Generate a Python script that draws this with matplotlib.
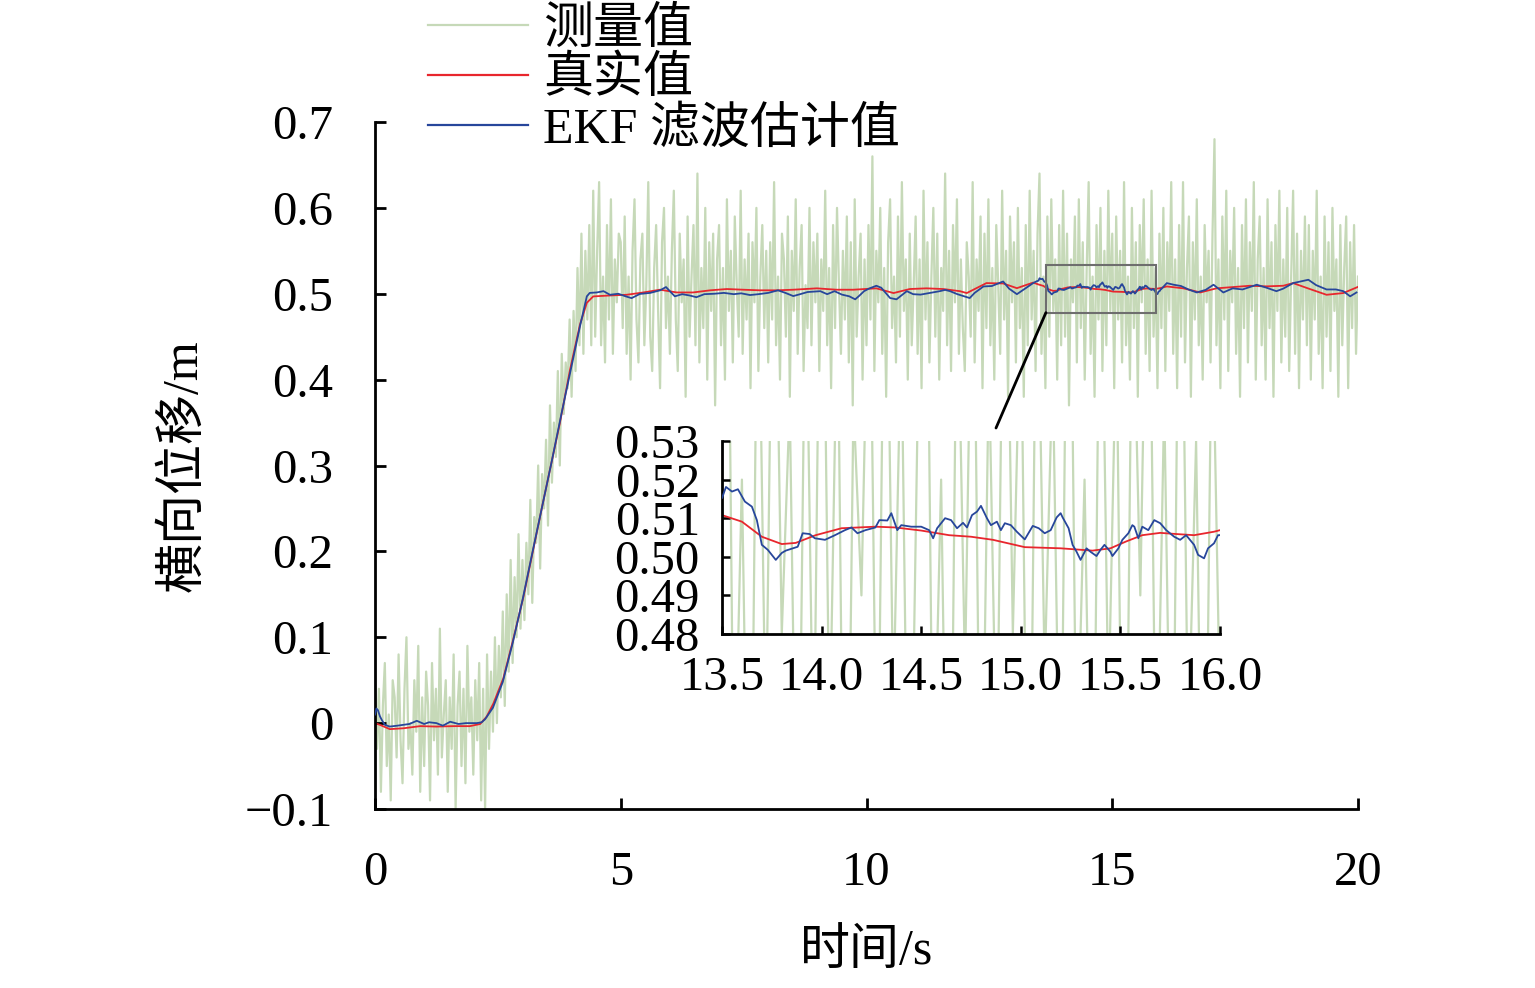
import numpy as np
import matplotlib
matplotlib.use("Agg")
import matplotlib.pyplot as plt
from matplotlib.lines import Line2D
from matplotlib.patches import Rectangle, ConnectionPatch

plt.rcParams['font.family'] = ['Liberation Serif', 'Noto Sans CJK SC', 'DejaVu Sans']
plt.rcParams['axes.unicode_minus'] = True

# ---------------- data ----------------
labels = ['测量值', '真实值', 'EKF 滤波估计值']
x_label = '时间/s'
y_label = '横向位移/m'

x_ticks = [0, 5, 10, 15, 20]
x_ticklabels = ['0', '5', '10', '15', '20']
y_ticks = [-0.1, 0.0, 0.1, 0.2, 0.3, 0.4, 0.5, 0.6, 0.7]
y_ticklabels = ['\u22120.1', '0', '0.1', '0.2', '0.3', '0.4', '0.5', '0.6', '0.7']

inset_x_ticks = [13.5, 14.0, 14.5, 15.0, 15.5, 16.0]
inset_x_ticklabels = ['13.5', '14.0', '14.5', '15.0', '15.5', '16.0']
inset_y_ticks = [0.48, 0.49, 0.50, 0.51, 0.52, 0.53]
inset_y_ticklabels = ['0.48', '0.49', '0.50', '0.51', '0.52', '0.53']

# zoom window marked on main plot
zoom_box = (13.65, 0.478, 15.90, 0.534)

# measurement, sampled every 0.04 s from 0 to 20 s
meas_dt = 0.04
meas_v = [
    0.06, -0.03, 0.04, -0.08, 0.02, 0.07, -0.05, 0.01, -0.09, 0.05, 0.03, -0.04, 0.08, -0.02, -0.07, 0.04, 0.10, -0.03, 0.00, -0.06, 0.05, -0.01, 0.09, -0.08, 0.03,
    -0.05, 0.06, 0.02, -0.09, 0.07, -0.02, 0.04, -0.06, 0.11, -0.04, 0.01, 0.05, -0.08, 0.03, -0.03, 0.08, -0.10, 0.02, 0.06, -0.05, 0.04, -0.07, 0.09, -0.01, 0.03,
    -0.06, 0.05, -0.02, 0.07, -0.09, 0.04, -0.10, 0.08, -0.03, 0.06, -0.01, 0.10, 0.00, 0.09, 0.03, 0.13, 0.02, 0.15, 0.06, 0.19, 0.07, 0.17, 0.10, 0.22, 0.11,
    0.19, 0.12, 0.21, 0.15, 0.26, 0.14, 0.24, 0.21, 0.30, 0.18, 0.29, 0.25, 0.33, 0.23, 0.37, 0.28, 0.35, 0.31, 0.41, 0.30, 0.43, 0.36, 0.42, 0.39, 0.47,
    0.38, 0.48, 0.41, 0.53, 0.44, 0.57, 0.43, 0.55, 0.47, 0.58, 0.44, 0.62, 0.45, 0.55, 0.63, 0.44, 0.52, 0.42, 0.58, 0.47, 0.61, 0.43, 0.54, 0.49, 0.57,
    0.56, 0.46, 0.59, 0.43, 0.52, 0.40, 0.55, 0.61, 0.47, 0.42, 0.54, 0.57, 0.44, 0.51, 0.63, 0.45, 0.41, 0.53, 0.58, 0.48, 0.39, 0.56, 0.60, 0.46, 0.52,
    0.43, 0.55, 0.62, 0.47, 0.41, 0.57, 0.49, 0.54, 0.38, 0.59, 0.45, 0.52, 0.58, 0.44, 0.64, 0.42, 0.53, 0.46, 0.60, 0.40, 0.56, 0.48, 0.57, 0.37, 0.54,
    0.58, 0.44, 0.53, 0.40, 0.61, 0.48, 0.55, 0.42, 0.59, 0.51, 0.45, 0.62, 0.43, 0.54, 0.47, 0.57, 0.39, 0.56, 0.49, 0.60, 0.41, 0.52, 0.58, 0.46, 0.55,
    0.42, 0.56, 0.47, 0.63, 0.44, 0.52, 0.40, 0.57, 0.54, 0.45, 0.59, 0.38, 0.55, 0.48, 0.61, 0.43, 0.53, 0.58, 0.41, 0.51, 0.46, 0.60, 0.44, 0.56, 0.49,
    0.57, 0.41, 0.54, 0.48, 0.62, 0.44, 0.53, 0.39, 0.58, 0.46, 0.60, 0.51, 0.43, 0.55, 0.47, 0.59, 0.42, 0.56, 0.37, 0.61, 0.45, 0.52, 0.57, 0.40, 0.54,
    0.44, 0.58, 0.47, 0.66, 0.41, 0.55, 0.49, 0.60, 0.43, 0.53, 0.38, 0.56, 0.61, 0.46, 0.52, 0.42, 0.59, 0.45, 0.63, 0.48, 0.54, 0.40, 0.57, 0.44, 0.51,
    0.59, 0.43, 0.54, 0.39, 0.62, 0.47, 0.56, 0.42, 0.52, 0.60, 0.45, 0.57, 0.40, 0.53, 0.48, 0.64, 0.44, 0.55, 0.41, 0.58, 0.49, 0.61, 0.43, 0.54, 0.46,
    0.41, 0.56, 0.52, 0.45, 0.63, 0.42, 0.54, 0.48, 0.59, 0.39, 0.57, 0.46, 0.61, 0.44, 0.53, 0.40, 0.58, 0.51, 0.43, 0.62, 0.47, 0.55, 0.38, 0.59, 0.49,
    0.56, 0.42, 0.60, 0.46, 0.53, 0.38, 0.58, 0.44, 0.62, 0.47, 0.55, 0.41, 0.57, 0.64, 0.43, 0.52, 0.39, 0.59, 0.45, 0.61, 0.48, 0.54, 0.40, 0.58, 0.44,
    0.62, 0.45, 0.57, 0.37, 0.54, 0.49, 0.59, 0.42, 0.61, 0.46, 0.56, 0.40, 0.53, 0.63, 0.43, 0.52, 0.38, 0.58, 0.47, 0.60, 0.41, 0.55, 0.44, 0.62, 0.48,
    0.57, 0.39, 0.59, 0.47, 0.55, 0.42, 0.63, 0.44, 0.52, 0.40, 0.60, 0.46, 0.56, 0.38, 0.58, 0.49, 0.61, 0.43, 0.54, 0.41, 0.62, 0.45, 0.53, 0.39, 0.57,
    0.46, 0.60, 0.41, 0.56, 0.48, 0.63, 0.43, 0.54, 0.39, 0.58, 0.45, 0.63, 0.42, 0.53, 0.59, 0.38, 0.56, 0.47, 0.61, 0.44, 0.52, 0.40, 0.58, 0.49, 0.55,
    0.42, 0.57, 0.68, 0.44, 0.54, 0.39, 0.59, 0.47, 0.62, 0.41, 0.55, 0.49, 0.60, 0.43, 0.53, 0.38, 0.58, 0.46, 0.61, 0.42, 0.56, 0.48, 0.63, 0.40, 0.54,
    0.59, 0.44, 0.53, 0.40, 0.61, 0.46, 0.56, 0.38, 0.58, 0.48, 0.62, 0.42, 0.54, 0.45, 0.60, 0.41, 0.52, 0.62, 0.43, 0.57, 0.39, 0.55, 0.47, 0.59, 0.44,
    0.58, 0.40, 0.55, 0.47, 0.62, 0.43, 0.52, 0.39, 0.59, 0.45, 0.56, 0.41, 0.60, 0.48, 0.54, 0.38, 0.58, 0.44, 0.53, 0.59, 0.39, 0.56, 0.46, 0.58, 0.43,
    0.52,
]

# true value
true_t = [0.00, 0.10, 0.30, 0.58, 0.92, 1.25, 1.60, 1.93, 2.14, 2.27, 2.41, 2.61, 2.81, 3.02, 3.15, 3.40, 3.76, 3.97, 4.17, 4.31,
          4.44, 4.78, 5.12, 5.46, 5.80, 6.14, 6.47, 6.82, 7.16, 7.49, 7.83, 8.17, 8.51, 8.99, 9.39, 9.73, 10.20, 10.55, 10.88, 11.22,
          11.56, 11.90, 12.04, 12.44, 12.78, 13.06, 13.39, 13.50, 13.60, 13.70, 13.80, 13.87, 13.97, 14.10, 14.27, 14.37, 14.50, 14.64, 14.75, 14.86,
          15.02, 15.20, 15.36, 15.45, 15.53, 15.61, 15.70, 15.78, 15.87, 15.97, 16.00, 16.11, 16.45, 16.79, 17.12, 17.46, 17.80, 18.14, 18.48, 18.68,
          19.02, 19.36, 19.70, 20.00]
true_v = [0.000, -0.002, -0.007, -0.006, -0.0035, -0.004, -0.0035, -0.0035, -0.001, 0.0074, 0.023, 0.052, 0.097, 0.147, 0.183, 0.252, 0.349, 0.412, 0.464, 0.4895,
          0.4969, 0.498, 0.4988, 0.5015, 0.5047, 0.5015, 0.5015, 0.504, 0.5055, 0.5047, 0.504, 0.504, 0.5047, 0.5063, 0.5047, 0.5047, 0.5063, 0.5008, 0.5055, 0.5063,
          0.5055, 0.503, 0.5008, 0.5124, 0.512, 0.5065, 0.513, 0.5108, 0.5091, 0.5052, 0.5033, 0.5036, 0.5056, 0.5074, 0.5078, 0.5076, 0.5068, 0.5056, 0.5052, 0.5044,
          0.5025, 0.5022, 0.5016, 0.5022, 0.504, 0.5056, 0.5062, 0.5059, 0.5056, 0.5065, 0.5069, 0.5085, 0.5063, 0.5015, 0.5063, 0.5078, 0.5093, 0.5086, 0.5093, 0.5124,
          0.5055, 0.4988, 0.5008, 0.508]

# EKF estimate
ekf_t = [0.00, 0.03, 0.06, 0.10, 0.14, 0.20, 0.30, 0.45, 0.58, 0.70, 0.85, 1.00, 1.10, 1.25, 1.38, 1.53, 1.70, 1.85, 2.07, 2.17,
         2.24, 2.40, 2.60, 2.80, 3.00, 3.20, 3.40, 3.60, 3.80, 4.00, 4.17, 4.31, 4.37, 4.51, 4.65, 4.78, 4.95, 5.10, 5.22, 5.39,
         5.60, 5.80, 5.92, 6.10, 6.25, 6.40, 6.54, 6.70, 6.90, 7.10, 7.30, 7.45, 7.63, 7.80, 8.00, 8.20, 8.35, 8.51, 8.65, 8.80,
         9.06, 9.20, 9.35, 9.50, 9.65, 9.77, 9.85, 9.95, 10.05, 10.20, 10.30, 10.48, 10.61, 10.82, 10.95, 11.10, 11.30, 11.49, 11.60, 11.70,
         11.85, 12.10, 12.20, 12.38, 12.55, 12.78, 12.90, 13.06, 13.20, 13.39, 13.46,
         13.50, 13.52, 13.55, 13.58, 13.615, 13.65, 13.675, 13.70, 13.73, 13.77, 13.80, 13.82, 13.88, 13.905, 13.94, 13.966, 14.017, 14.067, 14.117, 14.15,
         14.18, 14.22, 14.27, 14.29, 14.33, 14.35, 14.38, 14.40, 14.45, 14.50, 14.54, 14.56, 14.58, 14.62, 14.65, 14.68, 14.71, 14.73, 14.755, 14.78,
         14.80, 14.83, 14.85, 14.88, 14.90, 14.92, 14.95, 14.98, 15.02, 15.06, 15.09, 15.12, 15.15, 15.18, 15.20, 15.21, 15.24, 15.26, 15.28, 15.30,
         15.33, 15.35, 15.38, 15.40, 15.42, 15.45, 15.46, 15.49, 15.51, 15.54, 15.56, 15.57, 15.59, 15.61, 15.64, 15.67, 15.70, 15.73, 15.77, 15.80,
         15.83, 15.87, 15.89, 15.92, 15.94, 15.97, 15.99, 16.00,
         16.11, 16.25, 16.40, 16.55, 16.72, 16.90, 17.06, 17.26, 17.45, 17.65, 17.94, 18.14, 18.34, 18.48, 18.68, 18.99, 19.15, 19.36, 19.55, 19.70,
         19.84, 19.97]
ekf_v = [0.010, 0.017, 0.015, 0.008, 0.0035, -0.002, -0.004, -0.003, -0.002, -0.001, 0.0027, -0.001, 0.001, 0.000, -0.003, 0.0016, -0.001, 0.000, 0.000, 0.001,
         0.0045, 0.018, 0.048, 0.093, 0.143, 0.198, 0.252, 0.306, 0.362, 0.416, 0.462, 0.497, 0.501, 0.5015, 0.503, 0.4988, 0.500, 0.497, 0.4949, 0.4998,
         0.501, 0.504, 0.5078, 0.497, 0.4995, 0.498, 0.496, 0.4995, 0.500, 0.501, 0.4995, 0.5005, 0.4985, 0.4995, 0.501, 0.504, 0.501, 0.4973, 0.4995, 0.502,
         0.503, 0.4995, 0.503, 0.499, 0.497, 0.4935, 0.4975, 0.503, 0.506, 0.5093, 0.507, 0.495, 0.4935, 0.503, 0.4995, 0.499, 0.501, 0.503, 0.5045, 0.503,
         0.4995, 0.495, 0.501, 0.5085, 0.509, 0.5143, 0.506, 0.4995, 0.505, 0.5124, 0.5145,
         0.5152, 0.5181, 0.5169, 0.5175, 0.5143, 0.513, 0.5095, 0.5031, 0.5018, 0.4992, 0.501, 0.5016, 0.5026, 0.5061, 0.5059, 0.5048, 0.5044, 0.5056, 0.5069, 0.5076,
         0.5061, 0.5069, 0.5076, 0.5095, 0.5094, 0.5113, 0.5069, 0.5082, 0.5078, 0.5078, 0.5069, 0.5048, 0.5074, 0.510, 0.5095, 0.5074, 0.5088, 0.5076, 0.5108, 0.5117,
         0.5132, 0.510, 0.5082, 0.5091, 0.5069, 0.5087, 0.5082, 0.5065, 0.5045, 0.508, 0.5074, 0.5061, 0.5069, 0.5102, 0.5113, 0.5102, 0.5074, 0.5031, 0.5013, 0.4992,
         0.5022, 0.5013, 0.5002, 0.5018, 0.5031, 0.5013, 0.5002, 0.5022, 0.5044, 0.5061, 0.5082, 0.5078, 0.5048, 0.5078, 0.5069, 0.5095, 0.5087, 0.5069, 0.5052, 0.5044,
         0.5056, 0.5031, 0.5005, 0.4996, 0.5022, 0.5035, 0.5056, 0.5056,
         0.5124, 0.5105, 0.509, 0.505, 0.5015, 0.5045, 0.5105, 0.5015, 0.5063, 0.505, 0.5105, 0.507, 0.503, 0.506, 0.5124, 0.5163, 0.510, 0.505, 0.505, 0.503,
         0.497, 0.5015]

# ---------------- style ----------------
c_meas = '#c6d9b8'
c_true = '#e8262d'
c_ekf = '#27469b'
fs_tick = 35
fs_label = 36

meas_t = np.arange(len(meas_v)) * meas_dt

fig = plt.figure(figsize=(15.35, 9.88), dpi=100)
W, H = 1535.0, 988.0
ax = fig.add_axes([375 / W, 1 - 809 / H, 983 / W, 687 / H])


def draw_series(a, lw_m, lw_l):
    a.plot(meas_t, meas_v, color=c_meas, lw=lw_m, zorder=1)
    a.plot(true_t, true_v, color=c_true, lw=lw_l, zorder=2)
    a.plot(ekf_t, ekf_v, color=c_ekf, lw=lw_l, zorder=3)


draw_series(ax, 1.6, 1.3)
ax.set_xlim(0, 20)
ax.set_ylim(-0.1, 0.7)
ax.set_xticks(x_ticks)
ax.set_xticklabels(x_ticklabels)
ax.set_yticks(y_ticks)
ax.set_yticklabels(y_ticklabels)
for s in ['top', 'right']:
    ax.spines[s].set_visible(False)
for s in ['left', 'bottom']:
    ax.spines[s].set_linewidth(2.0)
ax.tick_params(direction='in', length=8, width=2.0, labelsize=fs_tick, pad=30)
ax.set_xlabel(x_label, fontsize=fs_label)
ax.set_ylabel(y_label, fontsize=fs_label)
ax.xaxis.set_label_coords(0.5, (809 - 928) / 687)
ax.yaxis.set_label_coords((207 - 375) / 983, 0.5)

# zoom box
x0, y0, x1, y1 = zoom_box
ax.add_patch(Rectangle((x0, y0), x1 - x0, y1 - y0, fill=False, edgecolor='#6e6e6e', lw=1.5, zorder=4))
con = ConnectionPatch(xyA=(x0, y0), coordsA=ax.transData,
                      xyB=(996 / W, 1 - 428 / H), coordsB='figure fraction',
                      color='black', lw=2.0, zorder=5)
fig.add_artist(con)

# inset
axi = fig.add_axes([722 / W, 1 - 634 / H, 498 / W, 193 / H])
draw_series(axi, 1.6, 1.3)
axi.set_xlim(13.5, 16.0)
axi.set_ylim(0.48, 0.53)
axi.set_xticks(inset_x_ticks)
axi.set_xticklabels(inset_x_ticklabels)
axi.set_yticks(inset_y_ticks)
axi.set_yticklabels(inset_y_ticklabels)
for s in ['top', 'right']:
    axi.spines[s].set_visible(False)
for s in ['left', 'bottom']:
    axi.spines[s].set_linewidth(2.0)
axi.tick_params(direction='in', length=6, width=1.8, labelsize=fs_tick, pad=16)

# legend
handles = [Line2D([], [], color=c_meas, lw=1.6),
           Line2D([], [], color=c_true, lw=1.6),
           Line2D([], [], color=c_ekf, lw=1.6)]
fig.legend(handles, labels, loc='upper left', bbox_to_anchor=(428 / W, 0.993),
           frameon=False, fontsize=fs_label, handlelength=2.0, handletextpad=0.3,
           labelspacing=0.07, borderpad=0, borderaxespad=0)

fig.savefig('out.png', dpi=100)
